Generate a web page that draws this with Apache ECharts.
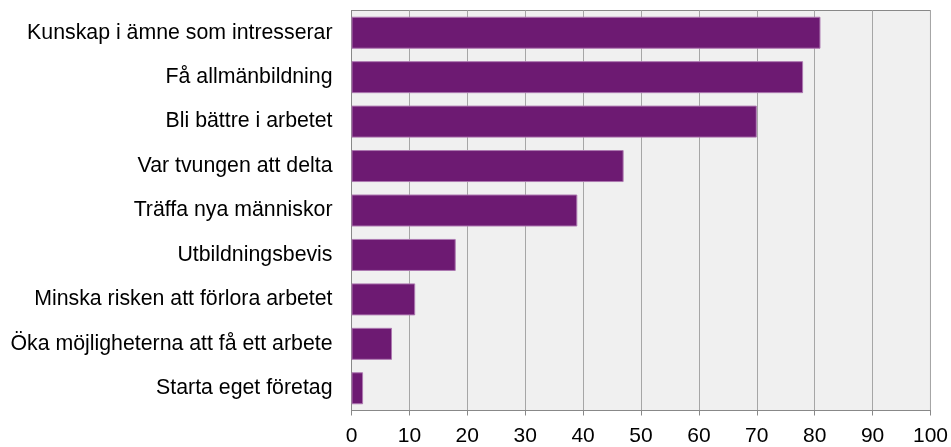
<!DOCTYPE html>
<html>
<head>
<meta charset="utf-8">
<script src="https://cdn.jsdelivr.net/npm/echarts@6/dist/echarts.min.js"></script>
<style>
  html, body { margin: 0; padding: 0; background: #fff; }
  #chart { width: 951px; height: 447px; }
</style>
</head>
<body>
<div id="chart"></div>
<script>
// categories, top to bottom
const categories = [
  'Kunskap i ämne som intresserar',
  'Få allmänbildning',
  'Bli bättre i arbetet',
  'Var tvungen att delta',
  'Träffa nya människor',
  'Utbildningsbevis',
  'Minska risken att förlora arbetet',
  'Öka möjligheterna att få ett arbete',
  'Starta eget företag'
]
const values = [81, 78, 70, 47, 39, 18, 11, 7, 2]

const chart = echarts.init(document.getElementById('chart'))

const option = {
  animation: false,
  textStyle: { fontFamily: 'Liberation Sans, Arial, sans-serif' },
  grid: {
    show: true,
    backgroundColor: '#f0f0f0',
    borderColor: '#888',
    borderWidth: 1,
    left: 351.5,
    right: 18.5,
    top: 10.5,
    bottom: 30.5,
    containLabel: false
  },
  xAxis: {
    type: 'value',
    min: 0,
    max: 100,
    interval: 10,
    axisLine: { show: true, lineStyle: { color: '#888' } },
    axisTick: { show: true, length: 5, lineStyle: { color: '#888' } },
    axisLabel: { color: '#000', fontSize: 21, margin: 15.5 },
    splitLine: { show: true, lineStyle: { color: '#a6a6a6', width: 1 } }
  },
  yAxis: {
    type: 'category',
    inverse: true,
    data: categories,
    axisLine: { show: true, lineStyle: { color: '#888' } },
    axisTick: { show: false },
    axisLabel: { color: '#000', fontSize: 21.3, margin: 19 },
    splitLine: { show: false }
  },
  series: [{
    type: 'bar',
    data: values,
    barWidth: 32,
    itemStyle: {
      color: '#6d1a72',
      borderColor: '#ad78b0',
      borderWidth: 1
    }
  }]
}

chart.setOption(option)
</script>
</body>
</html>
